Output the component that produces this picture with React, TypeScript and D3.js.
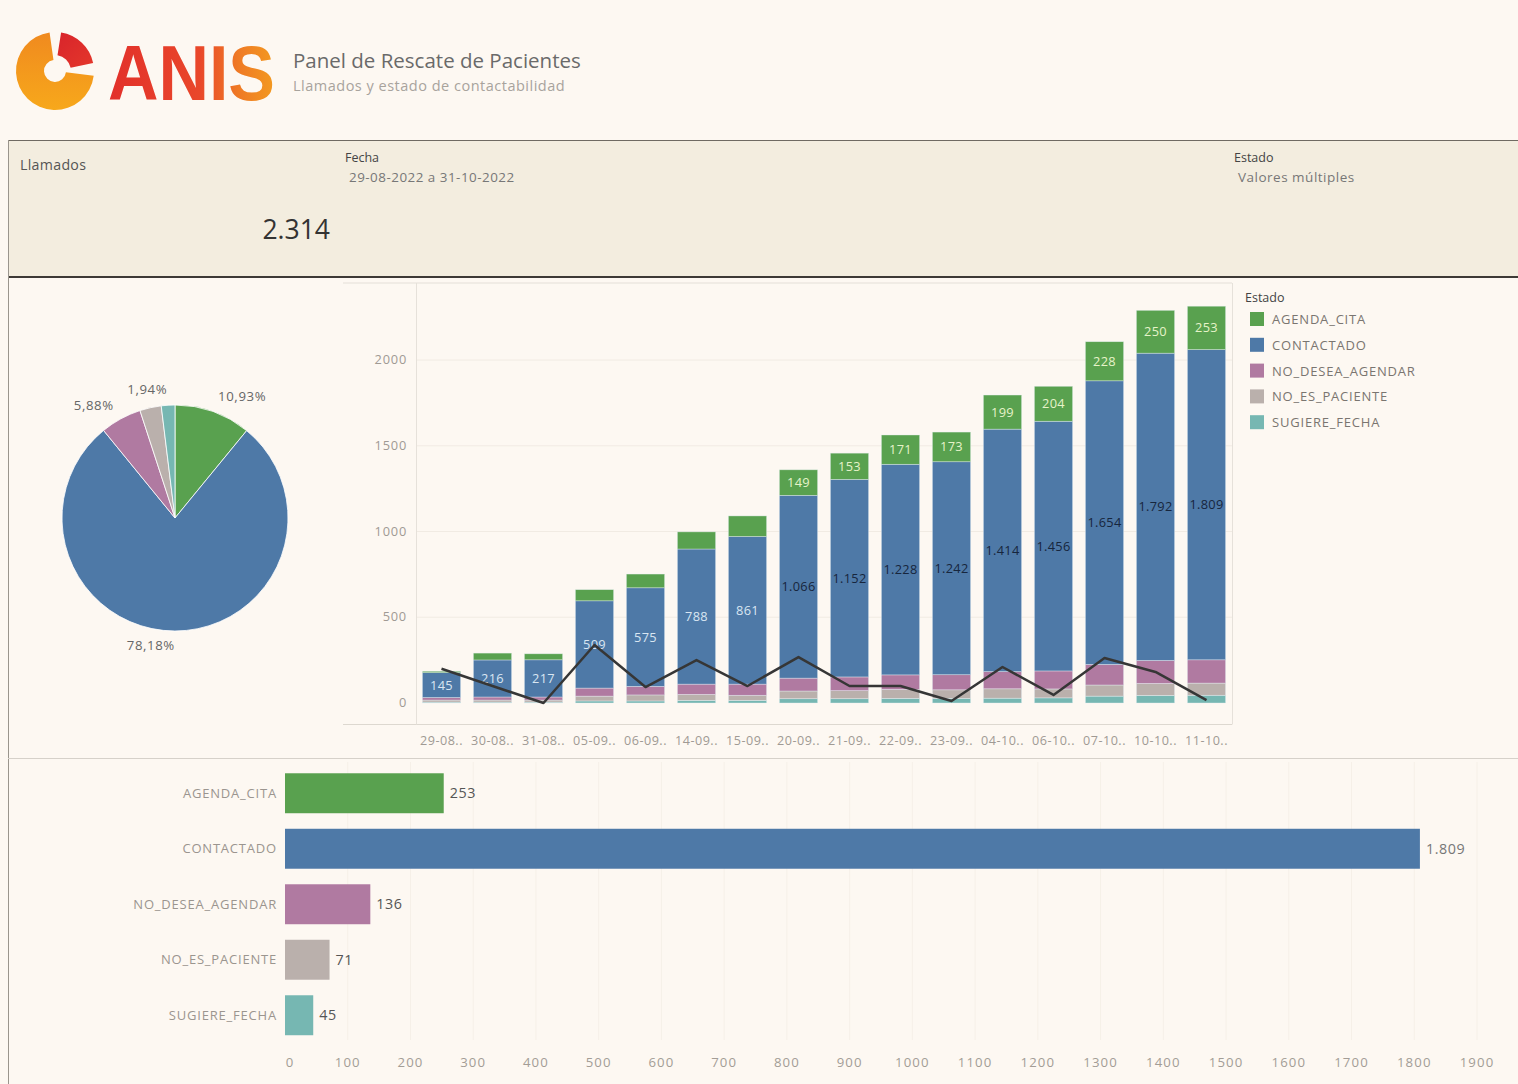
import React from "react";
import * as d3 from "d3";

// ---------- DATA ----------
const fechas = ["29-08", "30-08", "31-08", "05-09", "06-09", "14-09", "15-09", "20-09", "21-09", "22-09", "23-09", "04-10", "06-10", "07-10", "10-10", "11-10"];
const estados = ["AGENDA_CITA", "CONTACTADO", "NO_DESEA_AGENDAR", "NO_ES_PACIENTE", "SUGIERE_FECHA"];
const agendaCita = [8, 40, 35, 65, 80, 100, 120, 149, 153, 171, 173, 199, 204, 228, 250, 253];
const contactado = [145, 216, 217, 509, 575, 788, 861, 1066, 1152, 1228, 1242, 1414, 1456, 1654, 1792, 1809];
const noDeseaAgendar = [15, 18, 18, 47, 50, 60, 65, 75, 80, 85, 88, 100, 105, 120, 134, 136];
const noEsPaciente = [12, 12, 12, 28, 35, 35, 30, 45, 47, 52, 50, 55, 52, 65, 70, 71];
const sugiereFecha = [5, 5, 5, 12, 12, 15, 15, 25, 25, 27, 27, 28, 30, 40, 44, 45];
const lineaDiaria = [200, 99, 0, 338, 93, 250, 99, 268, 99, 99, 12, 210, 47, 262, 181, 17];
const totalesEstado = [253, 1809, 136, 71, 45];
const etiquetaPieVisible = [true, true, true, false, true];
const coloresEstado = ["#59a14f", "#4e79a7", "#b07aa1", "#bab0ac", "#76b7b2"];
const ticksY = [0, 500, 1000, 1500, 2000];
const ticksXBarras = [0, 100, 200, 300, 400, 500, 600, 700, 800, 900, 1000, 1100, 1200, 1300, 1400, 1500, 1600, 1700, 1800, 1900];
const totalLlamados = 2314;

// ---------- STYLE ----------
const W = 1518;
const H = 1084;
const FONT = "'Open Sans', Lato, 'Noto Sans', sans-serif";
const BG = "#fdf8f2";

const es = d3.formatLocale({ decimal: ",", thousands: ".", grouping: [3], currency: ["$", ""] });
const fmt = es.format(",d");
const pct = (v: number) => (v * 100).toFixed(2).replace(".", ",") + "%";

const colorDe = d3.scaleOrdinal<string, string>().domain(estados).range(coloresEstado);

function Logo() {
  const ringCx = 55;
  const ringCy = 71;
  const arcGen = d3.arc<any>().innerRadius(11).outerRadius(39);
  const arcRed = d3.arc<any>().innerRadius(16).outerRadius(39);
  const deg = (d: number) => (d * Math.PI) / 180;
  const orange = arcGen({ startAngle: deg(97), endAngle: deg(352) } as any) || "";
  const red = arcRed({ startAngle: deg(9), endAngle: deg(78) } as any) || "";
  return (
    <g>
      <defs>
        <linearGradient id="ringGrad" x1="0" y1="1" x2="0" y2="0">
          <stop offset="0%" stopColor="#f7a81b" />
          <stop offset="100%" stopColor="#f08a1f" />
        </linearGradient>
        <linearGradient id="redGrad" x1="0" y1="0" x2="1" y2="1">
          <stop offset="0%" stopColor="#d8242b" />
          <stop offset="100%" stopColor="#e4372b" />
        </linearGradient>
        <linearGradient id="textGrad" x1="108" y1="0" x2="275" y2="0" gradientUnits="userSpaceOnUse">
          <stop offset="0%" stopColor="#e2302b" />
          <stop offset="55%" stopColor="#e9472a" />
          <stop offset="78%" stopColor="#ef7a25" />
          <stop offset="100%" stopColor="#f39a20" />
        </linearGradient>
      </defs>
      <g transform={`translate(${ringCx},${ringCy})`}>
        <path d={orange} fill="url(#ringGrad)" />
        <path d={red} fill="url(#redGrad)" />
      </g>
      <text
        x={108}
        y={100}
        fontFamily="'Liberation Sans', Arial, sans-serif"
        fontWeight={700}
        fontSize={78}
        textLength={167}
        lengthAdjust="spacingAndGlyphs"
        fill="url(#textGrad)"
      >
        ANIS
      </text>
    </g>
  );
}

function KpiBand() {
  return (
    <g fontFamily={FONT}>
      <rect x={8} y={140} width={W - 8} height={138} fill="#f3eddf" />
      <line x1={8} x2={W} y1={140.5} y2={140.5} stroke="#6f6a62" strokeWidth={1} />
      <line x1={8} x2={W} y1={277} y2={277} stroke="#3d3a36" strokeWidth={2} />
      <line x1={8.5} x2={8.5} y1={140} y2={H} stroke="#9a958d" strokeWidth={1} />
      <text x={20} y={170} fontSize={14.2} letterSpacing={0.3} fill="#555">Llamados</text>
      <text x={330} y={239} fontSize={26.5} fill="#333" textAnchor="end">{fmt(totalLlamados)}</text>
      <text x={345} y={162} fontSize={12.5} fill="#444">Fecha</text>
      <text x={349} y={182} fontSize={13.4} letterSpacing={0.5} fill="#777">29-08-2022 a 31-10-2022</text>
      <text x={1234} y={162} fontSize={12.5} fill="#444">Estado</text>
      <text x={1238} y={182} fontSize={13.5} letterSpacing={0.5} fill="#777">Valores múltiples</text>
    </g>
  );
}

function PieChart() {
  const cx = 175;
  const cy = 518;
  const r = 113;
  const total = d3.sum(totalesEstado);
  const pie = d3.pie<number>().sort(null).value((d) => d);
  const arcs = pie(totalesEstado);
  const arcGen = d3.arc<d3.PieArcDatum<number>>().innerRadius(0).outerRadius(r);
  return (
    <g transform={`translate(${cx},${cy})`} fontFamily={FONT}>
      {arcs.map((a, i) => (
        <path key={i} d={arcGen(a) || ""} fill={coloresEstado[i]} stroke="#ffffff" strokeWidth={0.8} />
      ))}
      {arcs.map((a, i) => {
        if (!etiquetaPieVisible[i]) return null;
        const mid = (a.startAngle + a.endAngle) / 2;
        const lr = 128;
        const x = lr * Math.sin(mid);
        const y = -lr * Math.cos(mid) + 4;
        return (
          <text
            key={"l" + i}
            x={x}
            y={y}
            fontSize={13.2}
            letterSpacing={0.6}
            fill="#666"
            textAnchor={mid >= Math.PI ? "end" : "start"}
          >
            {pct(a.value / total)}
          </text>
        );
      })}
    </g>
  );
}

function StackedChart() {
  const rows = fechas.map((f, i) => ({
    fecha: f,
    AGENDA_CITA: agendaCita[i],
    CONTACTADO: contactado[i],
    NO_DESEA_AGENDAR: noDeseaAgendar[i],
    NO_ES_PACIENTE: noEsPaciente[i],
    SUGIERE_FECHA: sugiereFecha[i],
  }));
  const keys = [...estados].reverse();
  const series = d3.stack<any>().keys(keys)(rows);
  const x = d3.scaleBand<string>().domain(fechas).range([416, 1232]).paddingInner(0.25).paddingOuter(0.125);
  const y = d3.scaleLinear().domain([0, 2426]).range([703, 287]);
  const line = d3
    .line<number>()
    .x((_, i) => (x(fechas[i]) as number) + x.bandwidth() / 2)
    .y((d) => y(d));
  const frameTop = 283;
  const frameBottom = 724.5;
  return (
    <g fontFamily={FONT}>
      <line x1={343} x2={1232} y1={frameTop} y2={frameTop} stroke="#e4dfd8" />
      <line x1={343} x2={1232} y1={frameBottom} y2={frameBottom} stroke="#ddd8d0" />
      <line x1={416.5} x2={416.5} y1={frameTop} y2={frameBottom} stroke="#e6e1da" />
      <line x1={1232.5} x2={1232.5} y1={frameTop} y2={frameBottom} stroke="#e6e1da" />
      {ticksY.map((t) => (
        <g key={t}>
          {t > 0 && <line x1={417} x2={1232} y1={y(t)} y2={y(t)} stroke="#f1ebe3" />}
          <text x={407} y={y(t) + 4} fontSize={12.8} letterSpacing={0.8} fill="#a09a94" textAnchor="end">
            {t}
          </text>
        </g>
      ))}
      {series.map((s) => {
        const key = s.key;
        return (
          <g key={key}>
            {s.map((d: any, i: number) => (
              <rect
                key={i}
                x={x(fechas[i])}
                y={y(d[1])}
                width={x.bandwidth()}
                height={Math.max(0, y(d[0]) - y(d[1]))}
                fill={colorDe(key)}
                stroke="#e9f3f7"
                strokeOpacity={0.55}
                strokeWidth={0.7}
              />
            ))}
          </g>
        );
      })}
      {series
        .filter((s) => s.key === "CONTACTADO" || s.key === "AGENDA_CITA")
        .map((s) =>
          s.map((d: any, i: number) => {
            const h = y(d[0]) - y(d[1]);
            if (s.key === "AGENDA_CITA" && h < 22) return null;
            const cxp = (x(fechas[i]) as number) + x.bandwidth() / 2;
            const cyp = (y(d[0]) + y(d[1])) / 2 + 4.5;
            const fill = s.key === "AGENDA_CITA" ? "#e6f3c9" : i < 7 ? "#d9e6f2" : "#17263d";
            return (
              <text key={s.key + i} x={cxp} y={cyp} fontSize={12.8} letterSpacing={0.3} fill={fill} textAnchor="middle">
                {fmt(d.data[s.key])}
              </text>
            );
          })
        )}
      <path d={line(lineaDiaria) || ""} fill="none" stroke="#363636" strokeWidth={2.5} strokeLinejoin="round" />
      {fechas.map((f) => (
        <text
          key={f}
          x={(x(f) as number) + x.bandwidth() / 2}
          y={745}
          fontSize={12.6}
          letterSpacing={0.5}
          fill="#a09a94"
          textAnchor="middle"
        >
          {f + ".."}
        </text>
      ))}
      <text x={1245} y={302} fontSize={12.5} fill="#444">Estado</text>
      {estados.map((e, i) => (
        <g key={e} transform={`translate(1250,${312 + i * 25.8})`}>
          <rect x={0} y={0} width={14} height={14} fill={coloresEstado[i]} />
          <text x={22} y={12} fontSize={13} letterSpacing={0.8} fill="#7a7570">
            {e}
          </text>
        </g>
      ))}
    </g>
  );
}

function HBarChart() {
  const yb = d3.scaleBand<string>().domain(estados).range([765.5, 1043]).paddingInner(0.28).paddingOuter(0.14);
  const xb = d3.scaleLinear().domain([0, 1900]).range([285, 1477]);
  return (
    <g fontFamily={FONT}>
      <line x1={8} x2={W} y1={758.5} y2={758.5} stroke="#d6d1ca" />
      {ticksXBarras.map((t) => (
        <g key={t}>
          {t > 0 && <line x1={xb(t)} x2={xb(t)} y1={762} y2={1040} stroke="#f6f0e8" />}
          <text
            x={xb(t) + (t === 0 ? 5 : 0)}
            y={1067}
            fontSize={13.2}
            letterSpacing={1.1}
            fill="#a39d96"
            textAnchor="middle"
          >
            {t}
          </text>
        </g>
      ))}
      {estados.map((e, i) => (
        <g key={e}>
          <text
            x={277}
            y={(yb(e) as number) + yb.bandwidth() / 2 + 4.5}
            fontSize={13}
            letterSpacing={0.8}
            fill="#9b958f"
            textAnchor="end"
          >
            {e}
          </text>
          <rect
            x={xb(0)}
            y={yb(e)}
            width={xb(totalesEstado[i]) - xb(0)}
            height={yb.bandwidth()}
            fill={coloresEstado[i]}
          />
          <text
            x={xb(totalesEstado[i]) + 6}
            y={(yb(e) as number) + yb.bandwidth() / 2 + 5}
            fontSize={14.3}
            letterSpacing={0.6}
            fill={i === 1 ? "#777" : "#555"}
          >
            {fmt(totalesEstado[i])}
          </text>
        </g>
      ))}
    </g>
  );
}

export default function App() {
  return (
    <svg
      width={W}
      height={H}
      viewBox={`0 0 ${W} ${H}`}
      style={{ position: "absolute", left: 0, top: 0, display: "block", background: BG }}
    >
      <rect x={0} y={0} width={W} height={H} fill={BG} />
      <Logo />
      <text x={293} y={68} fontFamily={FONT} fontSize={20.5} fill="#6a6a6a">
        Panel de Rescate de Pacientes
      </text>
      <text x={293} y={91} fontFamily={FONT} fontSize={14.5} letterSpacing={0.5} fill="#a8a39d">
        Llamados y estado de contactabilidad
      </text>
      <KpiBand />
      <PieChart />
      <StackedChart />
      <HBarChart />
    </svg>
  );
}
